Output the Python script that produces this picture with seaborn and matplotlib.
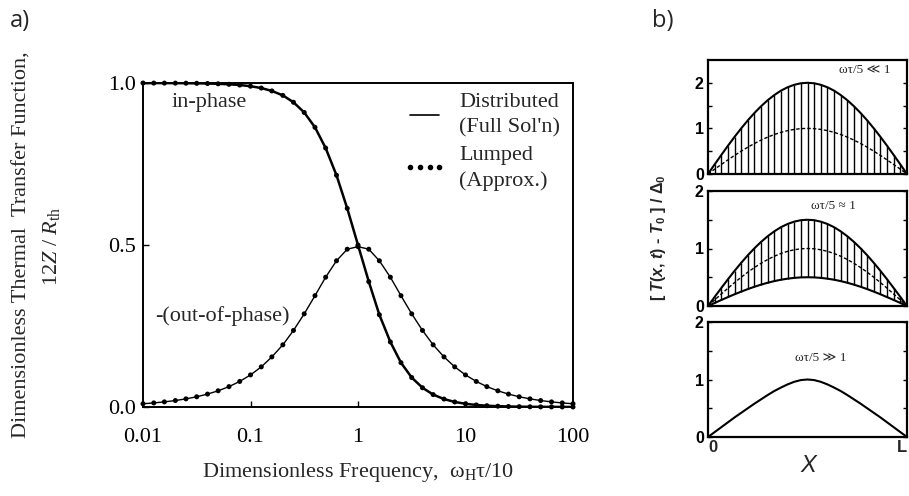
import matplotlib
matplotlib.use("Agg")
import matplotlib.pyplot as plt
import seaborn as sns
from matplotlib.lines import Line2D
from matplotlib.ticker import NullLocator

# ---- panel a: thermal transfer function vs. frequency ----
freq = [0.01, 0.0126, 0.0158, 0.02, 0.0251, 0.0316, 0.0398, 0.05, 0.0631, 0.0794,
        0.1, 0.126, 0.158, 0.2, 0.251, 0.316, 0.398, 0.5, 0.631, 0.794,
        1.0, 1.26, 1.58, 2.0, 2.51, 3.16, 3.98, 5.0, 6.31, 7.94,
        10.0, 12.6, 15.8, 20.0, 25.1, 31.6, 39.8, 50.0, 63.1, 79.4, 100.0]
in_phase = [0.9999, 0.9998, 0.9997, 0.9996, 0.9994, 0.9990, 0.9984, 0.9975, 0.9960, 0.9937,
            0.9901, 0.9844, 0.9755, 0.9617, 0.9406, 0.9091, 0.8632, 0.7993, 0.7152, 0.6131,
            0.5000, 0.3869, 0.2847, 0.2008, 0.1368, 0.0909, 0.0594, 0.0383, 0.0245, 0.0156,
            0.0099, 0.0063, 0.0040, 0.0025, 0.0016, 0.0010, 0.0006, 0.0004, 0.0003, 0.0002, 0.0001]
out_of_phase = [0.0100, 0.0126, 0.0158, 0.0199, 0.0251, 0.0316, 0.0398, 0.0500, 0.0629, 0.0789,
                0.0990, 0.1239, 0.1546, 0.1919, 0.2363, 0.2875, 0.3436, 0.4006, 0.4513, 0.4870,
                0.4950, 0.4870, 0.4513, 0.4006, 0.3436, 0.2875, 0.2363, 0.1919, 0.1546, 0.1239,
                0.0990, 0.0789, 0.0629, 0.0500, 0.0398, 0.0316, 0.0251, 0.0199, 0.0158, 0.0126, 0.0100]
freq_ticks = [0.01, 0.1, 1, 10, 100]
freq_labels = ["0.01", "0.1", "1", "10", "100"]
tf_ticks = [0.0, 0.5, 1.0]
tf_labels = ["0.0", "0.5", "1.0"]

# ---- panel b: temperature profiles along the bar ----
x_pos = [i / 30 for i in range(31)]
sine_profile = [0.0, 0.105, 0.208, 0.309, 0.407, 0.500, 0.588, 0.669, 0.743, 0.809,
                0.866, 0.914, 0.951, 0.978, 0.995, 1.000, 0.995, 0.978, 0.951, 0.914,
                0.866, 0.809, 0.743, 0.669, 0.588, 0.500, 0.407, 0.309, 0.208, 0.105, 0.0]
high_freq_profile = [0.0, 0.085, 0.17, 0.255, 0.34, 0.42, 0.50, 0.58, 0.655, 0.73,
                     0.80, 0.86, 0.915, 0.96, 0.99, 1.0, 0.99, 0.96, 0.915, 0.86,
                     0.80, 0.73, 0.655, 0.58, 0.50, 0.42, 0.34, 0.255, 0.17, 0.085, 0.0]
low_amp = {"upper": 2.0, "mean": 1.0}
mid_amp = {"upper": 1.5, "mean": 1.0, "lower": 0.5}
high_amp = 1.0
regime_labels = ["ωτ/5 ≪ 1", "ωτ/5 ≈ 1", "ωτ/5 ≫ 1"]

sns.set_theme(style="ticks")
plt.rcParams["font.family"] = ["Liberation Serif", "DejaVu Serif"]
plt.rcParams["mathtext.fontset"] = "custom"
plt.rcParams["mathtext.rm"] = "Liberation Serif"
plt.rcParams["mathtext.it"] = "Liberation Serif:italic"
plt.rcParams["mathtext.cal"] = "Liberation Sans:italic:bold"
plt.rcParams["axes.edgecolor"] = "black"

W, H = 909, 496
fig = plt.figure(figsize=(W / 100, H / 100), dpi=100)


def box(x0, y0, x1, y1):
    return [x0 / W, 1 - y1 / H, (x1 - x0) / W, (y1 - y0) / H]


# ---------------- panel a ----------------
ax = fig.add_axes(box(143, 83, 573, 407))
sns.lineplot(x=freq, y=in_phase, ax=ax, color="black", lw=1.8)
sns.lineplot(x=freq, y=out_of_phase, ax=ax, color="black", lw=1.0)
sns.scatterplot(x=freq, y=in_phase, ax=ax, color="black", s=13, edgecolor="none", clip_on=False, zorder=3)
sns.scatterplot(x=freq, y=out_of_phase, ax=ax, color="black", s=13, edgecolor="none", clip_on=False, zorder=3)
ax.set_xscale("log")
ax.set_xlim(0.01, 100)
ax.set_ylim(0.0, 1.0)
ax.set_xticks(freq_ticks)
ax.set_xticklabels(freq_labels)
ax.xaxis.set_minor_locator(NullLocator())
ax.set_yticks(tf_ticks)
ax.set_yticklabels(tf_labels)
ax.tick_params(direction="in", length=4, width=1, labelsize=16, colors="black")
ax.tick_params(axis="x", pad=15)
ax.tick_params(axis="y", pad=5)
for s in ax.spines.values():
    s.set_linewidth(1.4)
    s.set_visible(True)
ax.set_xlabel("Dimensionless Frequency,  ω$_\\mathrm{H}$τ/10", fontsize=16, labelpad=10)
ax.set_ylabel("")

ax.text(0.0186, 0.94, "in-phase", fontsize=16, ha="left", va="center")
ax.text(0.0129, 0.281, "-(out-of-phase)", fontsize=16, ha="left", va="center")

handles = [Line2D([], [], color="black", lw=1.2),
           Line2D([], [], ls="none", marker="o", ms=3.0, color="black")]
leg = ax.legend(handles, ["Distributed\n(Full Sol'n)", "Lumped\n(Approx.)"],
                loc="upper left", bbox_to_anchor=(0.575, 1.01), frameon=False, fontsize=16,
                numpoints=4, handlelength=1.9, handletextpad=0.6, labelspacing=0.35,
                borderaxespad=0.2)
for t in leg.get_texts():
    t.set_linespacing(1.45)

fig.text(22 / W, 1 - 245 / H, "Dimensionless Thermal  Transfer Function,",
         rotation=90, ha="center", va="center", fontsize=16)
fig.text(52 / W, 1 - 246 / H, "12$Z$ / $R_\\mathrm{th}$",
         rotation=90, ha="center", va="center", fontsize=16)

fig.text(20 / W, 1 - 21 / H, "a)", family=["Open Sans", "DejaVu Sans"], fontsize=17,
         ha="center", va="center")
fig.text(663 / W, 1 - 21 / H, "b)", family=["Open Sans", "DejaVu Sans"], fontsize=17,
         ha="center", va="center")

# ---------------- panel b ----------------
rows = [(60, 174), (191, 306), (322, 437)]
axes_b = [fig.add_axes(box(708, y0, 907, y1)) for (y0, y1) in rows]
sans_bold = dict(family=["Liberation Sans", "DejaVu Sans"], fontweight="bold")

# low frequency: mean profile with oscillation up to twice its height
a0 = axes_b[0]
upper0 = [low_amp["upper"] * v for v in sine_profile]
mean0 = [low_amp["mean"] * v for v in sine_profile]
a0.vlines(x_pos, 0, upper0, color="black", lw=1.0)
sns.lineplot(x=x_pos, y=upper0, ax=a0, color="black", lw=1.5)
sns.lineplot(x=x_pos, y=mean0, ax=a0, color="black", lw=1.0, linestyle=(0, (2.5, 1.5)))
a0.set_ylim(0, 2.5)

# intermediate frequency
a1 = axes_b[1]
upper1 = [mid_amp["upper"] * v for v in sine_profile]
mean1 = [mid_amp["mean"] * v for v in sine_profile]
lower1 = [mid_amp["lower"] * v for v in sine_profile]
a1.vlines(x_pos, lower1, upper1, color="black", lw=1.0)
sns.lineplot(x=x_pos, y=upper1, ax=a1, color="black", lw=1.5)
sns.lineplot(x=x_pos, y=lower1, ax=a1, color="black", lw=1.5)
sns.lineplot(x=x_pos, y=mean1, ax=a1, color="black", lw=1.0, linestyle=(0, (2.5, 1.5)))
a1.set_ylim(0, 2.0)

# high frequency: steady profile only
a2 = axes_b[2]
sns.lineplot(x=x_pos, y=[high_amp * v for v in high_freq_profile], ax=a2, color="black", lw=1.5)
a2.set_ylim(0, 2.0)

label_pos = [(0.66, 0.91), (0.52, 0.87), (0.435, 0.687)]
for a, lab, (tx, ty) in zip(axes_b, regime_labels, label_pos):
    a.set_xlim(0, 1)
    a.set_yticks([0, 0.5, 1, 1.5, 2])
    a.set_yticklabels(["0", "", "1", "", "2"], **sans_bold)
    a.tick_params(axis="y", direction="in", length=3, width=1, left=True, right=True,
                  labelsize=11.5, pad=3, colors="black")
    a.set_xticks([0, 1])
    a.tick_params(axis="x", length=0, labelsize=12, pad=2)
    a.set_xticklabels([])
    for s in a.spines.values():
        s.set_linewidth(1.6)
        s.set_visible(True)
    a.text(tx, ty, lab, transform=a.transAxes, ha="left", va="center", fontsize=9.5,
           family=["Liberation Serif", "DejaVu Serif", "DejaVu Sans"])

a2.set_xticklabels(["0", "L"], **sans_bold)
a2.get_xticklabels()[0].set_ha("left")
a2.get_xticklabels()[1].set_ha("right")

fig.text(808 / W, 1 - 466 / H, "X", family=["Liberation Sans", "DejaVu Sans"], style="italic",
         fontsize=17, ha="center", va="center")
fig.text(658 / W, 1 - 238 / H,
         "[ $\\mathcal{T}$($\\mathcal{x}$, $\\mathcal{t}$) - $\\mathcal{T}_\\mathdefault{0}$ ] / Δ$_\\mathdefault{0}$",
         rotation=90, ha="center", va="center", fontsize=11.5, **sans_bold)

fig.savefig("out.png", dpi=100, facecolor="white")
